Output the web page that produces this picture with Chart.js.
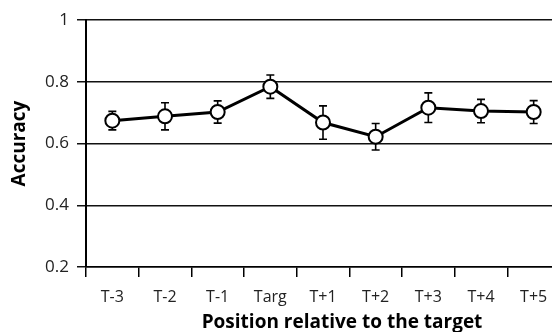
<!DOCTYPE html>
<html>
<head>
<meta charset="utf-8">
<script src="https://cdn.jsdelivr.net/npm/chart.js@4"></script>
<style>
  html, body { margin: 0; padding: 0; background: #fff; overflow: hidden; }
  canvas { display: block; }
</style>
</head>
<body>
<canvas id="chart" width="560" height="332"></canvas>
<script>
const labels = ["T-3", "T-2", "T-1", "Targ", "T+1", "T+2", "T+3", "T+4", "T+5"];
const accuracy = [0.674, 0.688, 0.702, 0.784, 0.668, 0.622, 0.716, 0.705, 0.702];
const errors = [0.030, 0.044, 0.036, 0.038, 0.054, 0.043, 0.048, 0.038, 0.037];
const yMin = 0.2;
const yMax = 1;
const yStep = 0.2;
const xTitle = "Position relative to the target";

const font = "'Open Sans', 'Noto Sans', sans-serif";

// error bars drawn under the points, using the chart's own scales
const errorBars = {
  id: "errorBars",
  beforeDatasetsDraw: (chart) => {
    const ctx = chart.ctx;
    const x = chart.scales.x;
    const y = chart.scales.y;
    ctx.save();
    ctx.strokeStyle = "#000";
    ctx.lineWidth = 1.6;
    for (let i = 0; i < accuracy.length; i++) {
      const px = x.getPixelForValue(i);
      const top = y.getPixelForValue(accuracy[i] + errors[i]);
      const bot = y.getPixelForValue(accuracy[i] - errors[i]);
      ctx.beginPath();
      ctx.moveTo(px, top);
      ctx.lineTo(px, bot);
      ctx.moveTo(px - 4, top);
      ctx.lineTo(px + 4, top);
      ctx.moveTo(px - 4, bot);
      ctx.lineTo(px + 4, bot);
      ctx.stroke();
    }
    ctx.restore();
  },
};

// x axis title, a bit right of the visible plot centre (the original figure is cropped)
const xAxisTitle = {
  id: "xAxisTitle",
  afterDraw: (chart) => {
    const ctx = chart.ctx;
    const x = chart.scales.x;
    ctx.save();
    ctx.font = "bold 19px " + font;
    ctx.fillStyle = "#000";
    ctx.textAlign = "center";
    ctx.textBaseline = "alphabetic";
    ctx.fillText(xTitle, (x.left + x.right) / 2 + 19, x.bottom - 4);
    ctx.restore();
  },
};

const config = {
  type: "line",
  data: {
    labels: labels,
    datasets: [
      {
        data: accuracy,
        borderColor: "#000",
        borderWidth: 3,
        tension: 0,
        pointRadius: 7,
        pointBorderWidth: 2,
        pointBackgroundColor: "#fff",
        pointBorderColor: "#000",
      },
    ],
  },
  options: {
    responsive: false,
    animation: false,
    layout: { autoPadding: false, padding: { top: 20, right: 0, left: 0, bottom: 0 } },
    plugins: {
      legend: { display: false },
      tooltip: { enabled: false },
    },
    scales: {
      x: {
        offset: true,
        grid: {
          offset: true,
          drawOnChartArea: false,
          drawTicks: true,
          tickLength: 10,
          color: "#000",
          lineWidth: 1.5,
        },
        border: { display: true, color: "#000", width: 1.5 },
        ticks: {
          color: "#222",
          font: { family: font, size: 16 },
          padding: 11,
          maxRotation: 0,
        },
        afterFit: (scale) => {
          scale.height = 65;
          scale.paddingLeft = 0;
          scale.paddingRight = 0;
        },
      },
      y: {
        min: yMin,
        max: yMax,
        grid: {
          color: "#111",
          lineWidth: 1.5,
          drawTicks: true,
          tickLength: 9,
        },
        border: { display: true, color: "#000", width: 2 },
        ticks: {
          stepSize: yStep,
          color: "#222",
          font: { family: font, size: 17 },
          padding: 8,
          callback: (v) => String(Math.round(v * 10) / 10),
        },
        title: {
          display: true,
          text: "Accuracy",
          color: "#000",
          font: { family: font, size: 19, weight: "bold", lineHeight: 1 },
          padding: { top: 10, bottom: 0 },
        },
        afterFit: (scale) => {
          scale.width = 86;
        },
      },
    },
  },
  plugins: [errorBars, xAxisTitle],
};

const chart = new Chart(document.querySelector("#chart").getContext("2d"), config);
</script>
</body>
</html>
